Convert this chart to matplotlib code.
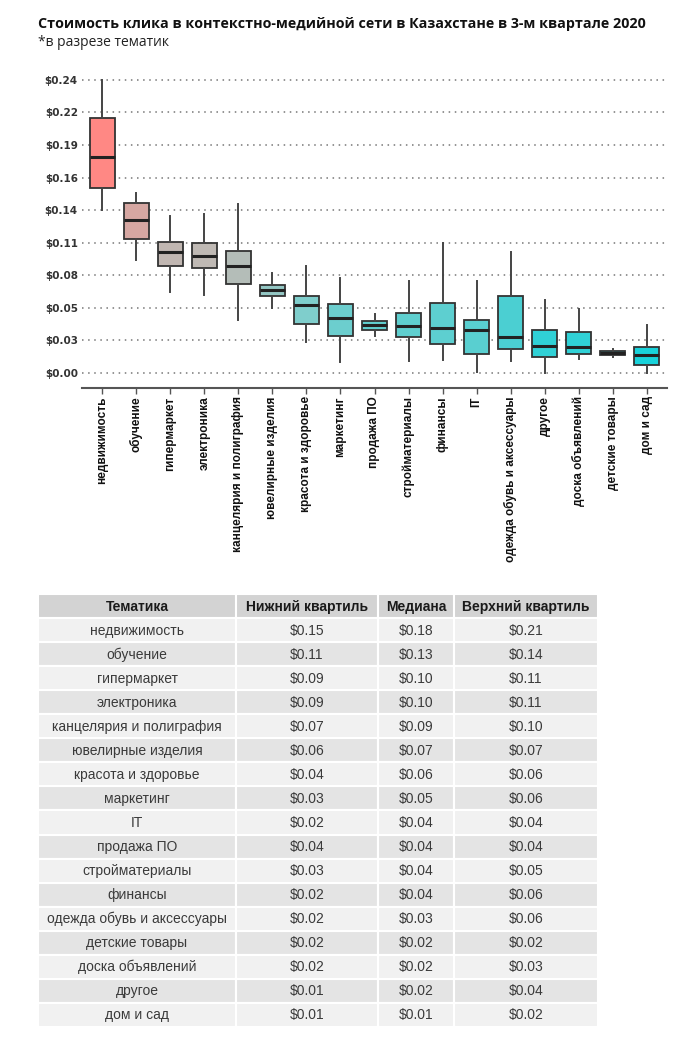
import numpy as np
import matplotlib.pyplot as plt
from matplotlib.colors import LinearSegmentedColormap, TwoSlopeNorm
from matplotlib.patches import Rectangle

# Данні для боксплоту (порядок як на графіку).
topics = ['недвижимость', 'обучение', 'гипермаркет', 'электроника',
          'канцелярия и полиграфия', 'ювелирные изделия', 'красота и здоровье',
          'маркетинг', 'продажа ПО', 'стройматериалы', 'финансы', 'IT',
          'одежда обувь и аксессуары', 'другое', 'доска объявлений',
          'детские товары', 'дом и сад']
whisk_lo = [0.135, 0.094, 0.067, 0.065, 0.044, 0.054, 0.026, 0.009, 0.031,
            0.010, 0.011, 0.001, 0.010, 0.000, 0.0116, 0.0135, 0.000]
q1 = [0.153, 0.111, 0.089, 0.087, 0.074, 0.064, 0.041, 0.031, 0.036,
      0.030, 0.024, 0.016, 0.0196, 0.0135, 0.016, 0.0152, 0.0066]
med = [0.179, 0.127, 0.100, 0.097, 0.089, 0.069, 0.056, 0.046, 0.040,
       0.039, 0.0376, 0.0357, 0.0296, 0.0224, 0.022, 0.0168, 0.0146]
q3 = [0.211, 0.141, 0.109, 0.1075, 0.101, 0.073, 0.064, 0.057, 0.043,
      0.0495, 0.058, 0.0437, 0.064, 0.0357, 0.034, 0.0185, 0.022]
whisk_hi = [0.243, 0.149, 0.130, 0.132, 0.140, 0.083, 0.089, 0.0785, 0.049,
            0.076, 0.108, 0.076, 0.100, 0.0605, 0.053, 0.020, 0.040]

ytick_vals = [0.0, 0.027, 0.054, 0.081, 0.108, 0.135, 0.162, 0.189, 0.216, 0.243]
ytick_labels = ['$0.00', '$0.03', '$0.05', '$0.08', '$0.11', '$0.14',
                '$0.16', '$0.19', '$0.22', '$0.24']

# Данні таблиці.
table_header = ['Тематика', 'Нижний квартиль', 'Медиана', 'Верхний квартиль']
table_topics = ['недвижимость', 'обучение', 'гипермаркет', 'электроника',
                'канцелярия и полиграфия', 'ювелирные изделия',
                'красота и здоровье', 'маркетинг', 'IT', 'продажа ПО',
                'стройматериалы', 'финансы', 'одежда обувь и аксессуары',
                'детские товары', 'доска объявлений', 'другое', 'дом и сад']
table_q1 = ['$0.15', '$0.11', '$0.09', '$0.09', '$0.07', '$0.06', '$0.04',
            '$0.03', '$0.02', '$0.04', '$0.03', '$0.02', '$0.02', '$0.02',
            '$0.02', '$0.01', '$0.01']
table_med = ['$0.18', '$0.13', '$0.10', '$0.10', '$0.09', '$0.07', '$0.06',
             '$0.05', '$0.04', '$0.04', '$0.04', '$0.04', '$0.03', '$0.02',
             '$0.02', '$0.02', '$0.01']
table_q3 = ['$0.21', '$0.14', '$0.11', '$0.11', '$0.10', '$0.07', '$0.06',
            '$0.06', '$0.04', '$0.04', '$0.05', '$0.06', '$0.06', '$0.02',
            '$0.03', '$0.04', '$0.02']

W, H = 700, 1038
fig = plt.figure(figsize=(W / 100, H / 100), dpi=100)
fig.patch.set_facecolor('white')

# Заголовок.
fig.text(38 / W, 1 - 24 / H, 'Стоимость клика в контекстно-медийной сети в Казахстане в 3-м квартале 2020',
         family='Open Sans', weight='bold', fontsize=10.3, color='#111111', va='center')
fig.text(38 / W, 1 - 43 / H, '*в разрезе тематик', family='Open Sans',
         fontsize=10, color='#222222', va='center')

# Боксплот.
ax = fig.add_axes([82 / W, 1 - 388 / H, 585 / W, 318 / H])
cmap = LinearSegmentedColormap.from_list(
    'rg', [(0.0, '#18D2DA'), (0.1, '#50CFD1'), (0.25, '#7ECECC'),
           (0.5, '#BDBAB5'), (1.0, '#FF8884')])
norm = TwoSlopeNorm(vmin=0.015, vcenter=0.095, vmax=0.179)

stats = []
for i in range(len(topics)):
    stats.append(dict(med=med[i], q1=q1[i], q3=q3[i], whislo=whisk_lo[i],
                      whishi=whisk_hi[i], fliers=[], label=topics[i]))
pos = np.arange(1, len(topics) + 1)
bp = ax.bxp(stats, positions=pos, widths=0.75, patch_artist=True,
            showfliers=False, showcaps=False,
            boxprops=dict(edgecolor='#333333', linewidth=1.3),
            medianprops=dict(color='#222222', linewidth=2.2),
            whiskerprops=dict(color='#444444', linewidth=1.4))
for patch, m in zip(bp['boxes'], med):
    patch.set_facecolor(cmap(norm(m)))

ax.set_xlim(0.4, len(topics) + 0.6)
ax.set_ylim(-0.0124, 0.2512)
ax.set_yticks(ytick_vals)
ax.set_yticklabels(ytick_labels, family='DejaVu Sans', fontsize=7.5,
                   weight='bold', color='#333333')
ax.yaxis.grid(True, linestyle=(0, (1, 3)), color='#777777', linewidth=1.1)
ax.set_axisbelow(True)
ax.tick_params(axis='y', length=0, pad=3)
ax.tick_params(axis='x', length=4, color='#555555', width=1, pad=2)
ax.set_xticks(pos)
ax.set_xticklabels(topics, rotation=90, family='Liberation Sans',
                   weight='bold', fontsize=8.5, color='#111111', va='top')
for s in ['top', 'right', 'left']:
    ax.spines[s].set_visible(False)
ax.spines['bottom'].set_color('#555555')
ax.spines['bottom'].set_linewidth(1.5)

# Таблиця.
tab = fig.add_axes([0, 0, 1, 1])
tab.set_xlim(0, W)
tab.set_ylim(H, 0)
tab.axis('off')
col_edges = [38, 236, 378, 454, 598]
top = 594
row_h = 24.05
rows = [table_header] + [list(r) for r in zip(table_topics, table_q1, table_med, table_q3)]
for r, row in enumerate(rows):
    y0 = top + r * row_h
    if r == 0:
        bg = '#D3D3D3'
    elif r % 2 == 1:
        bg = '#F1F1F1'
    else:
        bg = '#E4E4E4'
    for c in range(4):
        x0, x1 = col_edges[c], col_edges[c + 1]
        tab.add_patch(Rectangle((x0, y0), x1 - x0, row_h, facecolor=bg,
                                edgecolor='white', linewidth=1.5))
        tab.text((x0 + x1) / 2, y0 + row_h / 2 + 0.5, row[c], ha='center',
                 va='center', family='Liberation Sans', fontsize=10,
                 weight='bold' if r == 0 else 'normal',
                 color='#1A1A1A' if r == 0 else '#3A3A3A')

fig.savefig('out.png', dpi=100)
